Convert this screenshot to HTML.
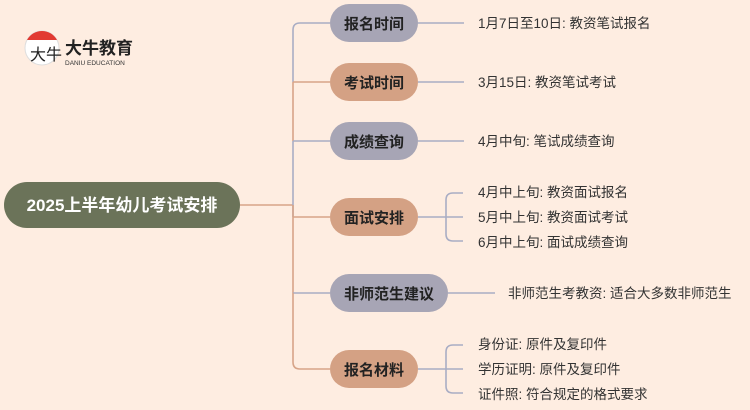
<!DOCTYPE html>
<html><head><meta charset="utf-8"><style>
body{margin:0;background:#feede1;}
svg{display:block}
text{font-family:"Liberation Sans","Noto Sans CJK SC",sans-serif;}
</style></head><body>
<svg width="750" height="410" viewBox="0 0 750 410" xmlns="http://www.w3.org/2000/svg">
<rect width="750" height="410" fill="#feede1"/>
<!-- logo -->
<circle cx="42" cy="48" r="17" fill="#fff" stroke="#ddd" stroke-width="1"/>
<path d="M27,40 A17,17 0 0 1 57,40 Z" fill="#e23a32"/>
<text x="30" y="60" font-size="16" fill="#222" font-family="Liberation Serif,Noto Serif CJK SC,serif">大牛</text>
<text x="65" y="54" font-size="17" font-weight="bold" fill="#222">大牛教育</text>
<text x="65" y="65" font-size="6.5" fill="#333">DANIU EDUCATION</text>
<g fill="none" stroke-width="1.6">
<path d="M240,205 H293" stroke="#d7a488"/>
<path d="M330,23 H300 Q293,23 293,30 V82" stroke="#a9adc4"/>
<path d="M293,82 H330 M293,82 V141" stroke="#d7a488"/>
<path d="M293,141 H330 M293,141 V217" stroke="#a9adc4"/>
<path d="M293,205 V217 H330 M293,217 V293" stroke="#d7a488"/>
<path d="M293,293 H330" stroke="#a9adc4"/>
<path d="M293,293 V362 Q293,369 300,369 H330" stroke="#d7a488"/>
<g stroke="#a9adc4">
<path d="M418,23 H464 M418,82 H464 M418,141 H464"/>
<path d="M418,217 H446 M463,193 H453 Q446,193 446,200 V234 Q446,241 453,241 H463 M446,217 H463"/>
<path d="M448,293 H495"/>
<path d="M418,369 H446 M463,345 H453 Q446,345 446,352 V386 Q446,393 453,393 H463 M446,369 H463"/>
</g>
</g>
<rect x="4" y="182" width="236" height="46" rx="23" fill="#6b7359"/>
<text x="122" y="211" font-size="17" font-weight="bold" fill="#fff" text-anchor="middle">2025上半年幼儿考试安排</text>
<g font-size="15" font-weight="bold" fill="#222" text-anchor="middle">
<rect x="330" y="4" width="88" height="38" rx="19" fill="#a7a5b5"/><text x="374" y="29">报名时间</text>
<rect x="330" y="63" width="88" height="38" rx="19" fill="#d4a184"/><text x="374" y="88">考试时间</text>
<rect x="330" y="122" width="88" height="38" rx="19" fill="#a7a5b5"/><text x="374" y="147">成绩查询</text>
<rect x="330" y="198" width="88" height="38" rx="19" fill="#d4a184"/><text x="374" y="223">面试安排</text>
<rect x="330" y="274" width="118" height="38" rx="19" fill="#a7a5b5"/><text x="389" y="299">非师范生建议</text>
<rect x="330" y="350" width="88" height="38" rx="19" fill="#d4a184"/><text x="374" y="375">报名材料</text>
</g>
<g font-size="13.5" fill="#333">
<text x="478" y="28">1月7日至10日: 教资笔试报名</text>
<text x="478" y="87">3月15日: 教资笔试考试</text>
<text x="478" y="146">4月中旬: 笔试成绩查询</text>
<text x="478" y="197">4月中上旬: 教资面试报名</text>
<text x="478" y="222">5月中上旬: 教资面试考试</text>
<text x="478" y="247">6月中上旬: 面试成绩查询</text>
<text x="508" y="298">非师范生考教资: 适合大多数非师范生</text>
<text x="478" y="349">身份证: 原件及复印件</text>
<text x="478" y="374">学历证明: 原件及复印件</text>
<text x="478" y="399">证件照: 符合规定的格式要求</text>
</g>
</svg>
</body></html>
